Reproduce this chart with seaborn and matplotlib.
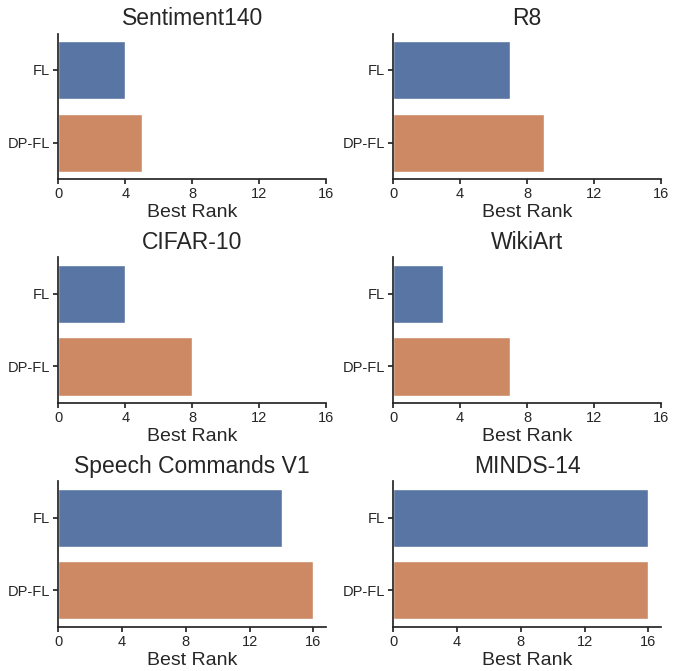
import matplotlib
matplotlib.use("Agg")
import matplotlib.pyplot as plt
import seaborn as sns
import pandas as pd

datasets = ["Sentiment140", "R8", "CIFAR-10", "WikiArt", "Speech Commands V1", "MINDS-14"]
methods = ["FL", "DP-FL"]
fl_rank = [4, 7, 4, 3, 14, 16]
dpfl_rank = [5, 9, 8, 7, 16, 16]

sns.set_theme(style="ticks")
plt.rcParams['font.family'] = ['Liberation Sans', 'DejaVu Sans']

fig, axes = plt.subplots(3, 2, figsize=(6.78, 6.71), dpi=100)
palette = sns.color_palette("deep", 2)

for i, (name, ax) in enumerate(zip(datasets, axes.flat)):
    df = pd.DataFrame({"method": methods, "rank": [fl_rank[i], dpfl_rank[i]]})
    sns.barplot(data=df, y="method", x="rank", hue="method", palette=palette,
                legend=False, ax=ax, orient="h")
    ax.set_title(name, fontsize=16.5)
    ax.set_xlabel("Best Rank", fontsize=14, labelpad=2)
    ax.set_ylabel("")
    ax.set_xticks([0, 4, 8, 12, 16])
    if i < 4:
        ax.set_xlim(0, 16)
    ax.tick_params(labelsize=10.5, length=3.5, pad=2.5)
    sns.despine(ax=ax)

plt.subplots_adjust(left=0.086, right=0.975, top=0.95, bottom=0.066, wspace=0.25, hspace=0.54)
plt.savefig("out.png")
plt.close()
